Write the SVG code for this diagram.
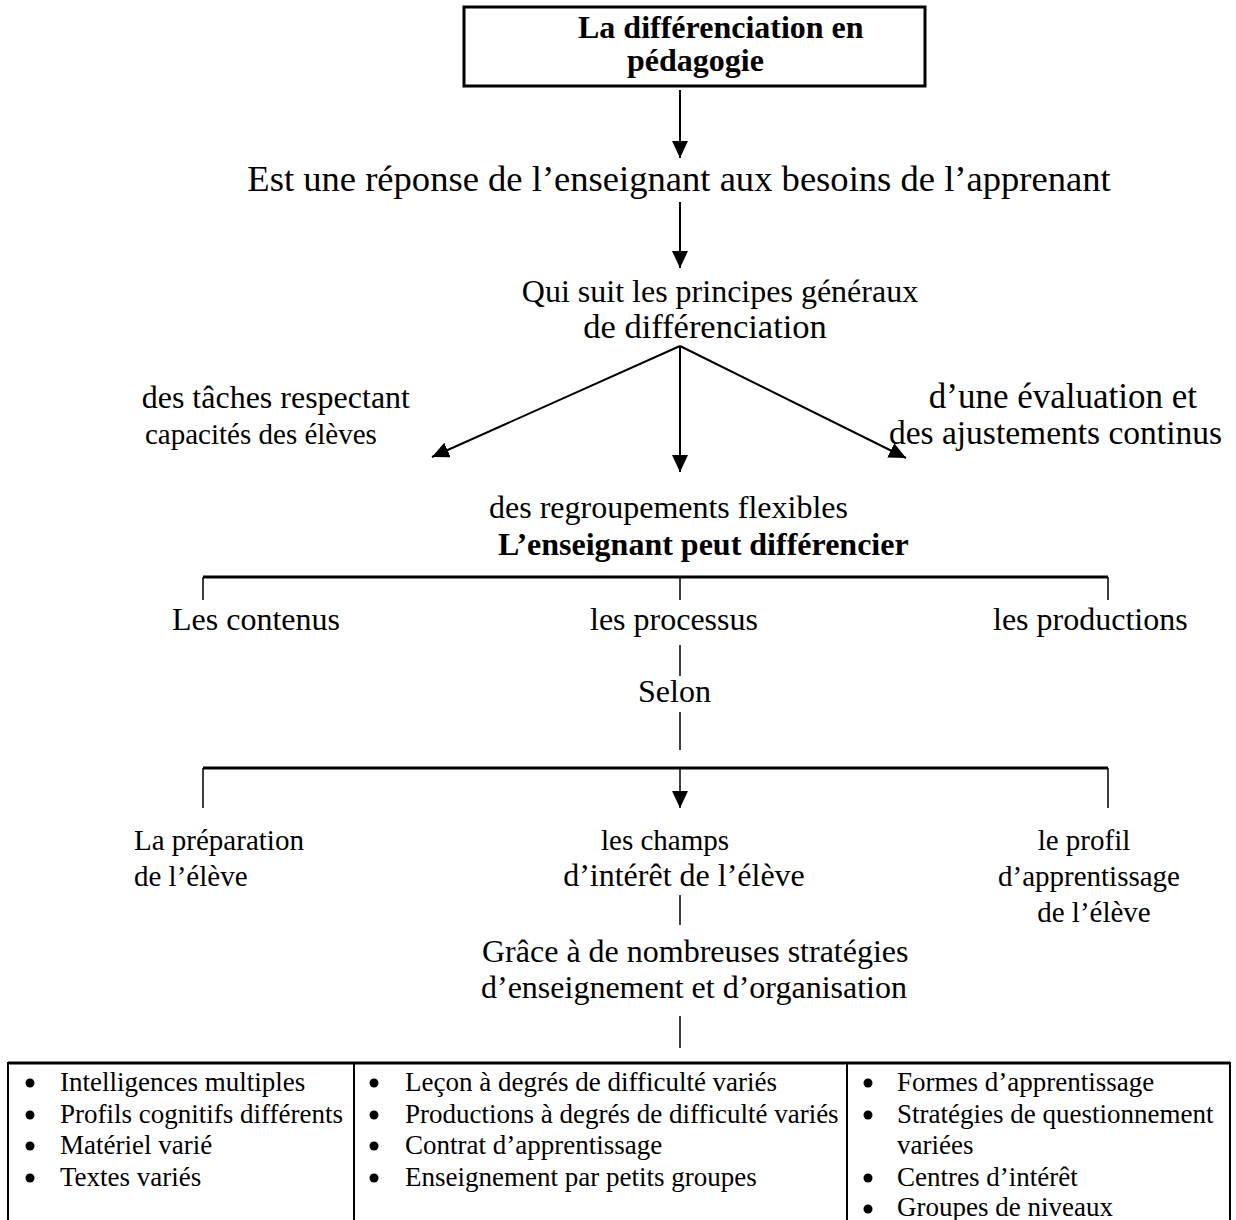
<svg xmlns="http://www.w3.org/2000/svg" width="1236" height="1220" viewBox="0 0 1236 1220">
<style>
text{font-family:"Liberation Serif","Times New Roman",serif;fill:#000}
.t{font-size:32px}
.L{font-size:36.6px}
.m{font-size:33.5px}
.m2{font-size:35px}
.d{font-size:34.5px}
.k{font-size:29px}
.b{font-size:32px;font-weight:bold}
.s{font-size:27px}
.ln{stroke:#000;stroke-width:2;fill:none}
.tk{stroke:#000;stroke-width:1.5;fill:none}
.hb{stroke:#000;stroke-width:3;fill:none}
</style>
<defs>
<marker id="ah" markerUnits="userSpaceOnUse" markerWidth="18" markerHeight="16" refX="17" refY="8" orient="auto" viewBox="0 0 18 16">
<path d="M0,0 L17,8 L0,16 z" fill="#000"/>
</marker>
</defs>
<rect width="1236" height="1220" fill="#fff"/>

<g id="title">
<rect x="464" y="7" width="461" height="79" fill="none" stroke="#000" stroke-width="3"/>
<text class="b" x="578" y="38">La différenciation en</text>
<text class="b" x="627" y="71">pédagogie</text>
</g>

<g id="n-reponse"><text class="L" x="679" y="191" text-anchor="middle">Est une réponse de l’enseignant aux besoins de l’apprenant</text></g>
<g id="n-principes">
<text class="t" x="720" y="302" text-anchor="middle">Qui suit les principes généraux</text>
<text class="d" x="705" y="338" text-anchor="middle">de différenciation</text>
</g>
<g id="n-taches">
<text class="t" x="410" y="408" text-anchor="end">des tâches respectant</text>
<text class="k" x="145" y="444">capacités des élèves</text>
</g>
<g id="n-evaluation">
<text class="m2" x="1197" y="408" text-anchor="end">d’une évaluation et</text>
<text class="m" x="1222" y="444" text-anchor="end">des ajustements continus</text>
</g>
<g id="n-regroupements"><text class="t" x="489" y="518">des regroupements flexibles</text></g>
<g id="n-enseignant"><text class="b" x="498" y="555">L’enseignant peut différencier</text></g>
<g id="n-contenus"><text class="t" x="172" y="630">Les contenus</text></g>
<g id="n-processus"><text class="t" x="590" y="630">les processus</text></g>
<g id="n-productions"><text class="t" x="993" y="630">les productions</text></g>
<g id="n-selon"><text class="t" x="638" y="702">Selon</text></g>
<g id="n-preparation">
<text class="k" x="134" y="850">La préparation</text>
<text class="k" x="134" y="886">de l’élève</text>
</g>
<g id="n-champs">
<text class="k" x="665" y="850" text-anchor="middle">les champs</text>
<text class="t" x="684" y="886" text-anchor="middle">d’intérêt de l’élève</text>
</g>
<g id="n-profil">
<text class="k" x="1084" y="850" text-anchor="middle">le profil</text>
<text class="k" x="1089" y="886" text-anchor="middle">d’apprentissage</text>
<text class="k" x="1094" y="922" text-anchor="middle">de l’élève</text>
</g>
<g id="n-strategies">
<text class="t" x="482" y="962">Grâce à de nombreuses stratégies</text>
<text class="t" x="481" y="998">d’enseignement et d’organisation</text>
</g>

<g id="table">
<path class="hb" d="M8,1063 H1230"/>
<path class="ln" d="M8,1062 V1222 M354,1062 V1222 M847,1062 V1222 M1230,1062 V1222" stroke-width="2.5"/>
<g id="col1">
<circle cx="30" cy="1083" r="4.5"/><text class="s" x="60" y="1091">Intelligences multiples</text>
<circle cx="30" cy="1115" r="4.5"/><text class="s" x="60" y="1123">Profils cognitifs différents</text>
<circle cx="30" cy="1146" r="4.5"/><text class="s" x="60" y="1154">Matériel varié</text>
<circle cx="30" cy="1178" r="4.5"/><text class="s" x="60" y="1186">Textes variés</text>
</g>
<g id="col2">
<circle cx="374" cy="1083" r="4.5"/><text class="s" x="405" y="1091">Leçon à degrés de difficulté variés</text>
<circle cx="374" cy="1115" r="4.5"/><text class="s" x="405" y="1123">Productions à degrés de difficulté variés</text>
<circle cx="374" cy="1146" r="4.5"/><text class="s" x="405" y="1154">Contrat d’apprentissage</text>
<circle cx="374" cy="1178" r="4.5"/><text class="s" x="405" y="1186">Enseignement par petits groupes</text>
</g>
<g id="col3">
<circle cx="868" cy="1083" r="4.5"/><text class="s" x="897" y="1091">Formes d’apprentissage</text>
<circle cx="868" cy="1115" r="4.5"/><text class="s" x="897" y="1123">Stratégies de questionnement</text>
<text class="s" x="897" y="1154">variées</text>
<circle cx="868" cy="1178" r="4.5"/><text class="s" x="897" y="1186">Centres d’intérêt</text>
<circle cx="868" cy="1209" r="4.5"/><text class="s" x="897" y="1216">Groupes de niveaux</text>
</g>
</g>

<g id="connectors">
<line class="ln" x1="680" y1="90" x2="680" y2="158" marker-end="url(#ah)"/>
<line class="ln" x1="680" y1="202" x2="680" y2="268" marker-end="url(#ah)"/>
<line class="ln" x1="680" y1="346" x2="432" y2="457" marker-end="url(#ah)"/>
<line class="ln" x1="680" y1="346" x2="680" y2="472" marker-end="url(#ah)"/>
<line class="ln" x1="680" y1="346" x2="906" y2="458" marker-end="url(#ah)"/>
<path class="hb" d="M203,577 H1108"/>
<path class="tk" d="M203,577 V600 M680,577 V600 M1108,577 V600"/>
<path class="tk" d="M680,645 V676 M680,712 V750"/>
<path class="hb" d="M203,768 H1108"/>
<path class="tk" d="M203,768 V808 M1108,768 V808"/>
<line class="tk" x1="680" y1="768" x2="680" y2="808" marker-end="url(#ah)"/>
<path class="tk" d="M680,895 V925 M680,1016 V1048"/>
</g>
</svg>
